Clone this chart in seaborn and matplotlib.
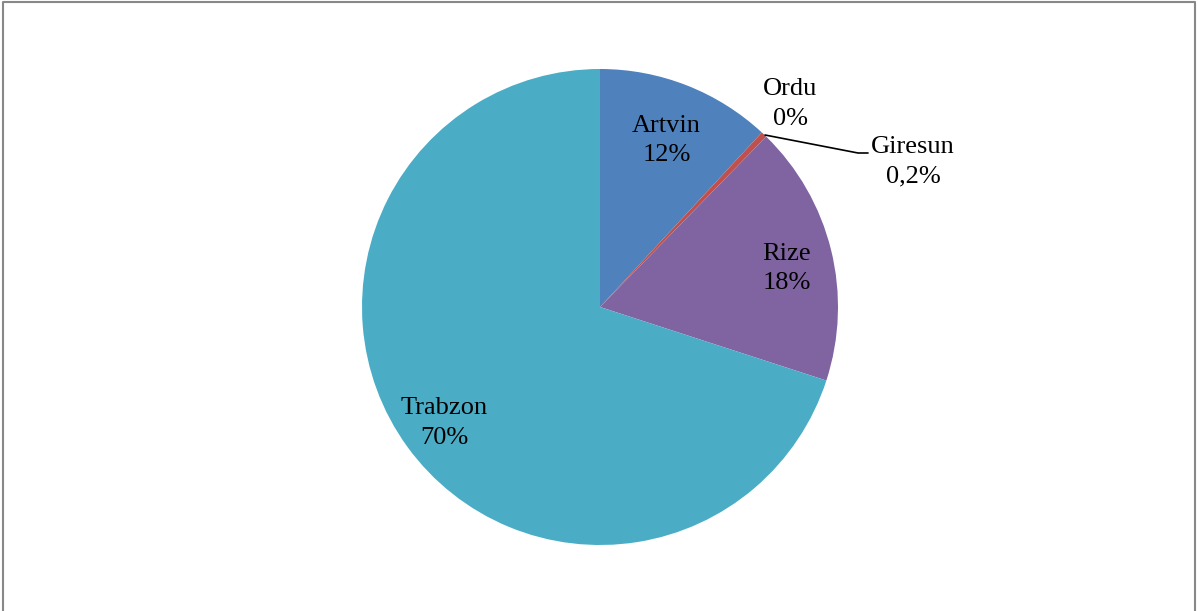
import matplotlib
matplotlib.use("Agg")
import matplotlib.pyplot as plt
import seaborn as sns
import numpy as np

provinces = ["Artvin", "Ordu", "Giresun", "Rize", "Trabzon"]
shares = [11.9, 0.0, 0.4, 17.7, 70.0]
pct_labels = ["12%", "0%", "0,2%", "18%", "70%"]
colors_hex = ["#4F81BD", "#F79646", "#C0504D", "#8064A2", "#4BACC6"]

sns.set_theme(style="white")
plt.rcParams["font.family"] = ["Liberation Serif", "DejaVu Serif"]
plt.rcParams["text.color"] = "black"
palette = sns.color_palette(colors_hex)

fig = plt.figure(figsize=(11.98, 6.11), dpi=100)
ax = fig.add_axes([0, 0, 1, 1])

cx, cy, R = 600, 611 - 307, 238
wedges, _ = ax.pie(shares, colors=palette, startangle=90, counterclock=False,
                   center=(cx, cy), radius=R, frame=True,
                   wedgeprops=dict(linewidth=0))
ax.set_xlim(0, 1198)
ax.set_ylim(0, 611)
ax.axis("off")

FS = 19
LS = 1.45
dist = {"Artvin": 0.765, "Rize": 0.80, "Trabzon": 0.81}
nudge = {"Artvin": (0, -3), "Rize": (2, -7), "Trabzon": (0, -3)}
total = sum(shares)
cum = 0
for name, v, lab in zip(provinces, shares, pct_labels):
    mid = cum + v / 2
    cum += v
    if v < 1:
        continue
    ang = np.deg2rad(90 - mid / total * 360)
    d = dist[name]
    nx, ny = nudge[name]
    ax.text(cx + d * R * np.cos(ang) + nx, cy + d * R * np.sin(ang) + ny, f"{name}\n{lab}",
            ha="center", va="center", fontsize=FS, linespacing=LS, color="black")

# outside labels for tiny slices
ax.text(790, 611 - 104, f"{provinces[1]}\n{pct_labels[1]}", ha="center", va="center",
        fontsize=FS, linespacing=LS, color="black")
ax.text(913, 611 - 162, f"{provinces[2]}\n{pct_labels[2]}", ha="center", va="center",
        fontsize=FS, linespacing=LS, color="black")
ax.plot([765, 858, 868], [611 - 135, 611 - 153, 611 - 153], color="black", lw=1.2)

# outer frame
ax.plot([3, 3, 1195, 1195], [0, 609, 609, 0], color="#888888", lw=1.5, clip_on=False)

fig.savefig("out.png", dpi=100)
